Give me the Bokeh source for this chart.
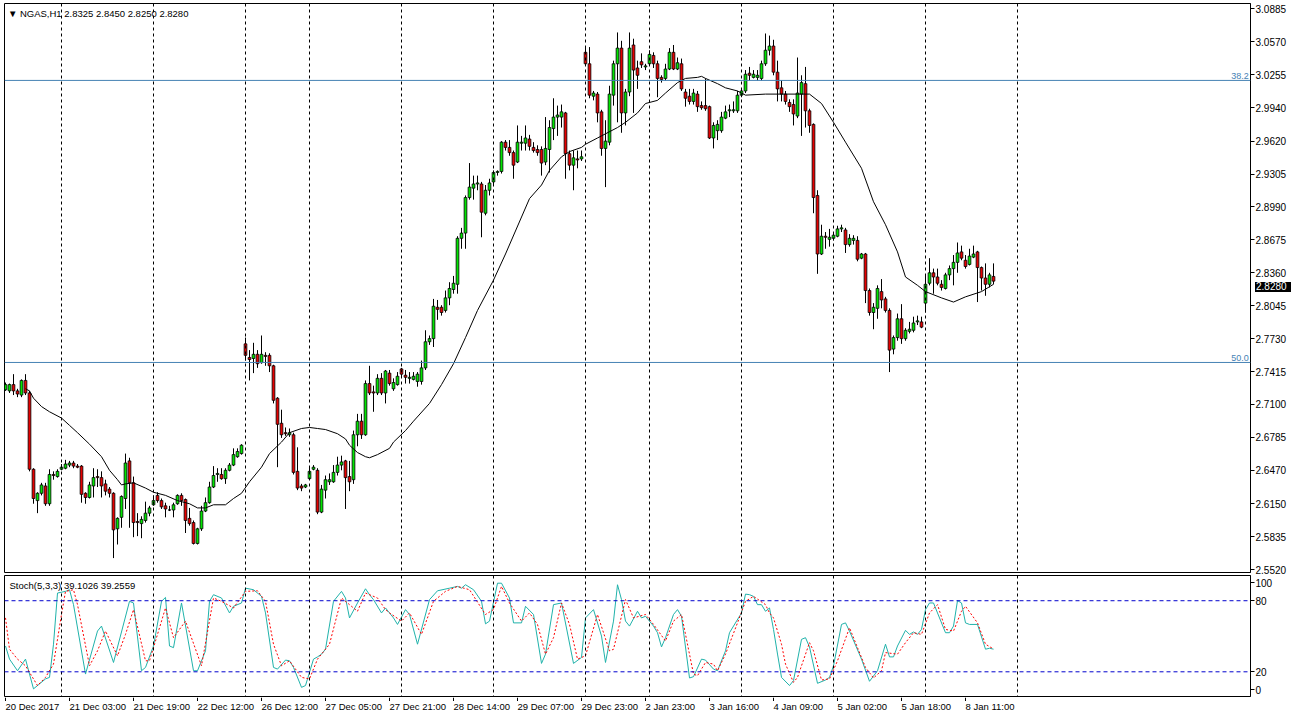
from bokeh.plotting import figure
from bokeh.models import Range1d, FixedTicker, Span, Label, ColumnDataSource, PrintfTickFormatter, Div
from bokeh.layouts import column
from bokeh.embed import file_html
from bokeh.resources import INLINE
from bokeh.core.properties import value

# ---------------- data ----------------
opens = [
 2.724, 2.723, 2.729, 2.723, 2.719, 2.733, 2.721, 2.648, 2.618, 2.625,
 2.632, 2.615, 2.643, 2.641, 2.648, 2.649, 2.652, 2.654, 2.651, 2.651,
 2.625, 2.621, 2.632, 2.641, 2.640, 2.634, 2.629, 2.625, 2.591, 2.602,
 2.620, 2.656, 2.635, 2.598, 2.596, 2.599, 2.606, 2.614, 2.623, 2.618,
 2.613, 2.609, 2.609, 2.615, 2.623, 2.619, 2.601, 2.597, 2.577, 2.591,
 2.608, 2.616, 2.631, 2.643, 2.643, 2.639, 2.647, 2.652, 2.660, 2.663,
 2.768, 2.755, 2.754, 2.758, 2.750, 2.757, 2.757, 2.747, 2.716, 2.692,
 2.683, 2.681, 2.681, 2.646, 2.632, 2.631, 2.639, 2.648, 2.647, 2.607,
 2.628, 2.636, 2.636, 2.645, 2.652, 2.656, 2.641, 2.638, 2.681, 2.694,
 2.681, 2.730, 2.722, 2.721, 2.735, 2.721, 2.740, 2.725, 2.729, 2.744,
 2.738, 2.735, 2.734, 2.732, 2.732, 2.745, 2.770, 2.773, 2.803, 2.803,
 2.800, 2.812, 2.820, 2.825, 2.869, 2.874, 2.908, 2.917, 2.921, 2.921,
 2.893, 2.915, 2.923, 2.932, 2.933, 2.961, 2.956, 2.951, 2.942, 2.960,
 2.960, 2.964, 2.956, 2.954, 2.954, 2.942, 2.954, 2.974, 2.985, 2.985,
 2.989, 2.950, 2.939, 2.945, 2.945, 3.047, 3.036, 3.005, 3.007, 2.990,
 2.955, 2.961, 3.006, 3.036, 3.051, 2.989, 3.009, 3.054, 3.032, 3.038,
 3.033, 3.036, 3.044, 3.036, 3.023, 3.022, 3.031, 3.047, 3.031, 3.036,
 3.009, 3.005, 3.000, 3.007, 2.996, 2.996, 2.995, 2.965, 2.972, 2.972,
 2.984, 2.991, 2.991, 2.991, 3.006, 3.010, 3.027, 3.023, 3.023, 3.022,
 3.036, 3.049, 3.053, 3.028, 3.013, 3.007, 2.999, 2.997, 2.986, 3.007,
 3.017, 2.991, 2.978, 2.910, 2.854, 2.871, 2.868, 2.869, 2.871, 2.878,
 2.877, 2.863, 2.867, 2.867, 2.850, 2.854, 2.819, 2.798, 2.802, 2.818,
 2.811, 2.800, 2.763, 2.774, 2.792, 2.773, 2.780, 2.781, 2.789, 2.789,
 2.807, 2.826, 2.836, 2.832, 2.825, 2.821, 2.834, 2.840, 2.846, 2.856,
 2.848, 2.844, 2.851, 2.856, 2.841, 2.831, 2.825, 2.8325]

highs = [
 2.731, 2.730, 2.739, 2.725, 2.734, 2.739, 2.723, 2.649, 2.626, 2.635,
 2.635, 2.648, 2.646, 2.648, 2.653, 2.657, 2.656, 2.656, 2.653, 2.652,
 2.626, 2.636, 2.649, 2.648, 2.646, 2.638, 2.631, 2.626, 2.602, 2.623,
 2.663, 2.659, 2.641, 2.606, 2.603, 2.617, 2.613, 2.623, 2.626, 2.620,
 2.616, 2.613, 2.616, 2.624, 2.625, 2.620, 2.611, 2.599, 2.592, 2.613,
 2.621, 2.636, 2.651, 2.649, 2.649, 2.649, 2.654, 2.668, 2.668, 2.672,
 2.774, 2.762, 2.769, 2.762, 2.776, 2.760, 2.759, 2.748, 2.717, 2.705,
 2.688, 2.687, 2.683, 2.669, 2.634, 2.634, 2.651, 2.652, 2.649, 2.633,
 2.642, 2.644, 2.652, 2.660, 2.661, 2.657, 2.656, 2.685, 2.701, 2.701,
 2.733, 2.747, 2.728, 2.739, 2.740, 2.743, 2.743, 2.735, 2.741, 2.745,
 2.743, 2.741, 2.741, 2.741, 2.752, 2.781, 2.776, 2.811, 2.810, 2.805,
 2.819, 2.827, 2.833, 2.871, 2.879, 2.910, 2.941, 2.929, 2.929, 2.923,
 2.920, 2.926, 2.934, 2.934, 2.962, 2.963, 2.963, 2.953, 2.977, 2.967,
 2.977, 2.968, 2.961, 2.958, 2.957, 2.985, 2.982, 3.003, 2.996, 2.997,
 2.990, 2.953, 2.953, 2.953, 2.953, 3.052, 3.052, 3.010, 3.009, 2.992,
 2.982, 3.015, 3.039, 3.066, 3.058, 3.012, 3.066, 3.060, 3.039, 3.046,
 3.036, 3.049, 3.047, 3.039, 3.025, 3.036, 3.051, 3.054, 3.042, 3.041,
 3.012, 3.012, 3.012, 3.010, 3.000, 3.022, 2.996, 2.980, 2.982, 2.990,
 2.996, 2.997, 3.000, 3.010, 3.012, 3.030, 3.033, 3.030, 3.030, 3.039,
 3.065, 3.063, 3.059, 3.039, 3.020, 3.010, 3.002, 3.002, 3.042, 3.025,
 3.033, 2.993, 2.979, 2.915, 2.882, 2.875, 2.878, 2.875, 2.881, 2.882,
 2.879, 2.873, 2.872, 2.871, 2.855, 2.855, 2.821, 2.807, 2.824, 2.830,
 2.813, 2.802, 2.776, 2.797, 2.806, 2.783, 2.789, 2.794, 2.795, 2.794,
 2.833, 2.850, 2.840, 2.840, 2.829, 2.836, 2.843, 2.853, 2.865, 2.862,
 2.853, 2.859, 2.862, 2.857, 2.842, 2.845, 2.836, 2.845]

lows = [
 2.723, 2.721, 2.719, 2.717, 2.717, 2.719, 2.646, 2.615, 2.606, 2.623,
 2.613, 2.613, 2.638, 2.640, 2.647, 2.648, 2.650, 2.649, 2.649, 2.616,
 2.615, 2.620, 2.621, 2.631, 2.621, 2.623, 2.621, 2.563, 2.576, 2.592,
 2.610, 2.592, 2.583, 2.584, 2.582, 2.597, 2.603, 2.613, 2.616, 2.610,
 2.602, 2.608, 2.602, 2.614, 2.613, 2.587, 2.594, 2.576, 2.576, 2.589,
 2.607, 2.615, 2.630, 2.636, 2.638, 2.634, 2.646, 2.651, 2.659, 2.662,
 2.752, 2.733, 2.740, 2.745, 2.749, 2.747, 2.741, 2.711, 2.650, 2.678,
 2.680, 2.679, 2.643, 2.628, 2.627, 2.630, 2.638, 2.647, 2.605, 2.606,
 2.620, 2.633, 2.635, 2.642, 2.647, 2.610, 2.627, 2.634, 2.670, 2.677,
 2.680, 2.719, 2.703, 2.719, 2.719, 2.711, 2.728, 2.723, 2.728, 2.737,
 2.730, 2.730, 2.733, 2.727, 2.729, 2.743, 2.767, 2.765, 2.791, 2.795,
 2.798, 2.805, 2.816, 2.816, 2.859, 2.859, 2.906, 2.906, 2.915, 2.870,
 2.891, 2.910, 2.919, 2.929, 2.931, 2.953, 2.948, 2.926, 2.941, 2.953,
 2.953, 2.953, 2.951, 2.948, 2.929, 2.939, 2.932, 2.963, 2.967, 2.975,
 2.926, 2.934, 2.915, 2.936, 2.943, 3.035, 3.003, 3.001, 2.980, 2.948,
 2.918, 2.958, 2.996, 2.980, 2.970, 2.977, 3.005, 2.989, 3.012, 3.032,
 3.030, 3.034, 3.032, 3.004, 3.018, 3.020, 3.030, 3.030, 3.030, 3.010,
 2.995, 2.997, 2.997, 2.990, 2.992, 2.991, 2.964, 2.955, 2.963, 2.970,
 2.983, 2.985, 2.989, 2.989, 3.004, 3.008, 3.020, 3.022, 3.020, 3.020,
 3.034, 3.044, 3.025, 3.000, 3.000, 2.997, 2.990, 2.977, 2.984, 2.967,
 2.975, 2.970, 2.893, 2.835, 2.853, 2.859, 2.861, 2.867, 2.870, 2.875,
 2.855, 2.861, 2.863, 2.847, 2.849, 2.807, 2.795, 2.782, 2.792, 2.802,
 2.798, 2.741, 2.758, 2.771, 2.768, 2.771, 2.778, 2.779, 2.786, 2.783,
 2.798, 2.824, 2.816, 2.824, 2.819, 2.820, 2.829, 2.824, 2.836, 2.848,
 2.840, 2.843, 2.850, 2.808, 2.819, 2.814, 2.822, 2.825]

closes = [
 2.729, 2.729, 2.723, 2.720, 2.733, 2.721, 2.648, 2.620, 2.625, 2.633,
 2.615, 2.643, 2.642, 2.646, 2.650, 2.653, 2.654, 2.651, 2.650, 2.624,
 2.621, 2.633, 2.640, 2.640, 2.632, 2.627, 2.625, 2.590, 2.601, 2.622,
 2.654, 2.635, 2.597, 2.597, 2.600, 2.606, 2.611, 2.618, 2.618, 2.612,
 2.610, 2.609, 2.614, 2.623, 2.618, 2.599, 2.596, 2.577, 2.591, 2.608,
 2.616, 2.631, 2.642, 2.644, 2.639, 2.647, 2.652, 2.662, 2.665, 2.671,
 2.757, 2.753, 2.758, 2.749, 2.758, 2.756, 2.747, 2.714, 2.691, 2.681,
 2.682, 2.683, 2.645, 2.630, 2.630, 2.633, 2.646, 2.650, 2.607, 2.629,
 2.638, 2.638, 2.645, 2.652, 2.655, 2.640, 2.636, 2.681, 2.694, 2.681,
 2.730, 2.721, 2.721, 2.735, 2.721, 2.742, 2.730, 2.731, 2.737, 2.739,
 2.736, 2.736, 2.737, 2.739, 2.745, 2.770, 2.773, 2.804, 2.801, 2.798,
 2.812, 2.821, 2.826, 2.869, 2.874, 2.908, 2.918, 2.921, 2.922, 2.894,
 2.915, 2.922, 2.932, 2.933, 2.961, 2.956, 2.951, 2.939, 2.961, 2.961,
 2.965, 2.957, 2.953, 2.951, 2.941, 2.955, 2.975, 2.985, 2.987, 2.990,
 2.950, 2.939, 2.946, 2.944, 2.947, 3.036, 3.006, 3.008, 2.989, 2.955,
 2.962, 3.007, 3.036, 3.051, 2.989, 3.009, 3.051, 3.030, 3.025, 3.035,
 3.034, 3.045, 3.036, 3.022, 3.021, 3.031, 3.047, 3.031, 3.037, 3.012,
 3.003, 3.000, 3.008, 2.995, 2.994, 2.993, 2.965, 2.977, 2.978, 2.985,
 2.990, 2.992, 2.992, 3.006, 3.010, 3.026, 3.025, 3.026, 3.025, 3.036,
 3.049, 3.053, 3.028, 3.012, 3.007, 3.000, 2.995, 2.988, 3.008, 3.018,
 2.991, 2.977, 2.908, 2.854, 2.871, 2.870, 2.870, 2.872, 2.878, 2.879,
 2.863, 2.869, 2.869, 2.849, 2.854, 2.819, 2.798, 2.803, 2.821, 2.810,
 2.800, 2.762, 2.774, 2.792, 2.773, 2.781, 2.782, 2.788, 2.790, 2.784,
 2.825, 2.836, 2.832, 2.826, 2.822, 2.834, 2.840, 2.846, 2.855, 2.850,
 2.842, 2.852, 2.854, 2.841, 2.831, 2.825, 2.834, 2.828]

ma_bar = [5, 6, 7, 9, 11, 14, 16, 18, 21, 24, 26, 28, 29, 30, 32, 35, 37, 40, 43, 46,
          48, 50, 52, 55, 57, 59, 61, 64, 66, 69, 71, 74, 76, 78, 80, 83, 85, 86, 88, 90,
          91, 93, 96, 97, 100, 102, 106, 109, 112, 115, 118, 122, 125, 131, 134, 136, 139, 141, 144, 145,
          148, 150, 153, 155, 158, 160, 163, 165, 168, 170, 173, 174, 175, 178, 180, 183, 185, 190, 195, 201,
          204, 207, 210, 214, 217, 220, 223, 225, 228, 230, 234, 237, 240, 244, 247]
ma_val = [2.725, 2.723, 2.716, 2.708, 2.703, 2.697, 2.690, 2.683, 2.672, 2.660,
          2.647, 2.638, 2.633, 2.634, 2.635, 2.630, 2.626, 2.623, 2.618, 2.615,
          2.611, 2.611, 2.614, 2.614, 2.620, 2.625, 2.636, 2.650, 2.663, 2.674,
          2.683, 2.687, 2.688, 2.687, 2.686, 2.682, 2.677, 2.671, 2.664, 2.660,
          2.659, 2.662, 2.668, 2.674, 2.685, 2.694, 2.711, 2.729, 2.749, 2.774,
          2.800, 2.829, 2.854, 2.907, 2.920, 2.934, 2.947, 2.952, 2.956, 2.959,
          2.965, 2.969, 2.975, 2.980, 2.989, 2.998, 3.001, 3.008, 3.018, 3.022,
          3.023, 3.024, 3.022, 3.017, 3.013, 3.010, 3.006, 3.007, 3.007, 3.007,
          2.998, 2.980, 2.961, 2.936, 2.904, 2.882, 2.856, 2.832, 2.824, 2.818,
          2.812, 2.808, 2.813, 2.818, 2.825]

k_bar = [0, 1, 3, 5, 7, 10, 11, 12, 13, 15, 16, 17, 20, 23, 24, 27, 31, 32, 34, 35,
         37, 39, 40, 41, 42, 44, 47, 48, 50, 51, 52, 54, 56, 57, 59, 60, 62, 64, 65, 67,
         68, 70, 71, 72, 74, 75, 77, 78, 79, 80, 82, 84, 85, 86, 88, 90, 91, 92, 94, 95,
         97, 98, 100, 101, 103, 106, 108, 111, 113, 114, 115, 117, 119, 120, 121, 123, 124, 126, 127, 129,
         130, 132, 134, 135, 137, 139, 142, 144, 145, 147, 149, 150, 152, 153, 154, 155, 156, 158, 159, 160,
         162, 163, 164, 165, 167, 168, 169, 171, 172, 174, 175, 177, 178, 180, 181, 184, 185, 186, 187, 188,
         189, 190, 191, 192, 193, 194, 196, 197, 199, 200, 201, 203, 205, 206, 207, 209, 210, 211, 214, 216,
         218, 220, 221, 222, 223, 225, 226, 227, 228, 229, 230, 231, 232, 233, 235, 236, 237, 238, 239, 240,
         241, 243, 245, 246, 247]
k_val = [41.8, 30.7, 20.9, 30.7, 5.6, 14.0, 15.3, 43.3, 86.5, 87.9, 89.3, 76.7, 18.1, 54.4, 58.6, 27.9, 79.5, 78.1, 20.9, 23.7,
         41.8, 79.5, 82.8, 41.8, 40.4, 78.1, 20.9, 20.9, 37.7, 79.5, 85.1, 82.3, 69.7, 75.3, 78.1, 90.6, 89.3, 83.7, 69.7, 23.7,
         22.3, 29.9, 29.3, 23.7, 6.9, 8.4, 30.7, 32.6, 34.9, 39.1, 79.5, 87.9, 82.3, 65.5, 78.1, 90.1, 85.1, 80.9, 69.7, 73.9,
         65.5, 60.0, 72.5, 68.4, 43.3, 80.9, 88.4, 90.6, 92.1, 90.6, 93.5, 89.3, 79.5, 60.5, 62.8, 94.8, 94.8, 82.3, 61.3, 61.3,
         75.3, 68.4, 27.1, 34.9, 76.7, 78.1, 27.1, 32.1, 65.5, 72.5, 50.2, 27.9, 62.8, 93.5, 80.9, 62.8, 58.6, 71.1, 65.5, 66.9,
         58.6, 53.0, 41.0, 48.8, 68.4, 72.5, 66.9, 14.8, 15.9, 30.7, 29.9, 22.3, 20.9, 37.7, 53.0, 69.7, 85.6, 85.1, 83.7, 76.7,
         76.7, 71.1, 73.9, 55.8, 35.0, 15.3, 8.4, 12.6, 47.4, 48.8, 41.0, 10.3, 13.1, 15.3, 25.1, 60.0, 61.3, 54.4, 30.7, 12.0,
         20.9, 43.3, 32.6, 32.6, 41.8, 55.0, 51.6, 53.6, 51.6, 55.8, 72.5, 78.1, 78.1, 69.7, 53.0, 53.0, 58.6, 80.1, 78.1, 61.3,
         60.0, 60.0, 39.1, 39.9, 39.1026]

d_bar = [0, 1, 3, 5, 8, 10, 12, 14, 15, 17, 18, 21, 23, 25, 28, 30, 32, 35, 36, 38,
         40, 42, 45, 49, 52, 54, 57, 60, 63, 65, 67, 69, 71, 74, 76, 78, 81, 84, 86, 88,
         90, 93, 95, 96, 99, 101, 104, 107, 110, 113, 116, 120, 122, 124, 126, 129, 131, 133, 135, 137,
         139, 141, 143, 145, 148, 151, 152, 155, 157, 160, 162, 165, 167, 169, 172, 173, 175, 177, 178, 180,
         183, 185, 187, 190, 191, 192, 193, 194, 195, 197, 198, 201, 202, 204, 206, 208, 211, 215, 217, 219,
         220, 223, 225, 227, 229, 231, 233, 235, 237, 239, 240, 243, 245, 247]
d_val = [65.5, 39.1, 30.7, 25.1, 8.4, 15.3, 26.5, 68.4, 87.9, 89.3, 76.7, 25.1, 37.7, 54.4, 33.5, 51.6, 72.5, 29.3, 29.3, 51.6,
         73.9, 48.8, 62.8, 25.1, 82.3, 79.5, 73.9, 87.9, 88.4, 79.5, 43.3, 25.1, 29.3, 15.3, 14.0, 30.7, 43.3, 82.3, 76.7, 71.1,
         86.5, 82.3, 72.5, 69.7, 62.8, 69.7, 51.6, 79.5, 87.9, 92.1, 89.3, 68.4, 72.5, 92.1, 78.1, 62.8, 69.7, 60.0, 34.9, 48.8,
         78.1, 60.0, 30.7, 33.5, 68.4, 37.7, 39.0, 81.0, 65.5, 68.4, 60.0, 46.0, 62.8, 68.4, 18.1, 16.7, 27.9, 26.5, 20.9, 34.9,
         61.3, 79.5, 83.7, 76.7, 69.7, 65.5, 54.4, 43.3, 26.5, 11.1, 15.3, 44.6, 37.7, 13.1, 14.0, 29.3, 57.2, 23.7, 14.8, 20.9,
         36.2, 34.9, 44.6, 53.0, 51.6, 69.7, 76.7, 55.8, 54.4, 71.1, 75.3, 61.3, 43.3, 39.2559]

day_start_bar = [14, 37, 60, 76, 99, 122, 145, 161, 184, 207, 230, 253]
time_tick_bar = [0, 16, 32, 48, 64, 80, 96, 112, 128, 144, 160, 176, 192, 208, 224, 240]
time_tick_text = ["20 Dec 2017", "21 Dec 03:00", "21 Dec 19:00", "22 Dec 12:00", "26 Dec 12:00",
                  "27 Dec 05:00", "27 Dec 21:00", "28 Dec 14:00", "29 Dec 07:00", "29 Dec 23:00",
                  "2 Jan 23:00", "3 Jan 16:00", "4 Jan 09:00", "5 Jan 02:00", "5 Jan 18:00", "8 Jan 11:00"]
price_ticks = [3.0885, 3.0570, 3.0255, 2.9940, 2.9620, 2.9305, 2.8990, 2.8675, 2.8360, 2.8045,
               2.7730, 2.7415, 2.7100, 2.6785, 2.6470, 2.6150, 2.5835, 2.5520]
fib_levels = [3.0201, 2.7502]
fib_names = ["38.2", "50.0"]
last_price = 2.8280

# ---------------- styling ----------------
FONT = "Liberation Sans"
FS = "10px"
FS_SMALL = "9.5px"
BULL = "#00E600"
BEAR = "#E60000"
FIB = "#4682B4"
W = 1290
LB, RB = 4, 40
XR = Range1d(-0.25, 311.25)

bars = list(range(len(closes)))
src = ColumnDataSource(dict(
    i=bars, o=opens, h=highs, l=lows, c=closes,
    top=[max(a, b) for a, b in zip(opens, closes)],
    bot=[min(a, b) for a, b in zip(opens, closes)],
    col=[BULL if c >= o else BEAR for o, c in zip(opens, closes)],
))


def style_yaxis(ax):
    ax.major_tick_out = 4
    ax.major_tick_in = 0
    ax.minor_tick_out = 0
    ax.minor_tick_in = 0
    ax.axis_line_color = "black"
    ax.major_label_text_font = FONT
    ax.major_label_text_font_size = FS
    ax.major_label_text_color = "black"
    ax.major_label_standoff = 1


# ---------------- price panel ----------------
p = figure(width=W, height=575, x_range=XR, y_range=Range1d(2.5492, 3.0937),
           x_axis_location=None, y_axis_location="right",
           output_backend="svg", toolbar_location=None,
           min_border_left=LB, min_border_right=RB, min_border_top=3, min_border_bottom=3)
p.grid.visible = False
p.outline_line_color = "black"
p.background_fill_color = "white"
p.border_fill_color = "white"

ya = p.yaxis[0]
ya.ticker = FixedTicker(ticks=price_ticks)
ya.formatter = PrintfTickFormatter(format="%.4f")
style_yaxis(ya)

for b in day_start_bar:
    p.add_layout(Span(location=b, dimension="height", line_color="black",
                      line_dash="3 3", line_width=1))
for lv, nm in zip(fib_levels, fib_names):
    p.add_layout(Span(location=lv, dimension="width", line_color=FIB, line_width=1))
    p.add_layout(Label(x=310.8, y=lv, text=nm, text_align="right", text_baseline="bottom",
                       y_offset=1, text_font=FONT, text_font_size="9px", text_color=FIB))

p.segment(x0="i", y0="l", x1="i", y1="h", source=src, line_color="black", line_width=1)
p.vbar(x="i", top="top", bottom="bot", width=0.68, source=src,
       fill_color="col", line_color="black", line_width=0.8)
p.line(ma_bar, ma_val, line_color="black", line_width=1)

p.add_layout(Label(x=0.6, y=3.0842, text="\u25BC NGAS,H1  2.8325 2.8450 2.8250 2.8280",
                   text_baseline="middle", text_font=FONT, text_font_size=FS_SMALL, text_color="black"))

# ---------------- stochastic panel ----------------
s = figure(width=W, height=122, x_range=XR, y_range=Range1d(-0.84, 101.3),
           x_axis_location=None, y_axis_location="right",
           output_backend="svg", toolbar_location=None,
           min_border_left=LB, min_border_right=RB, min_border_top=0, min_border_bottom=1)
s.grid.visible = False
s.outline_line_color = "black"
s.border_fill_color = "white"

sy = s.yaxis[0]
sy.ticker = FixedTicker(ticks=[5, 20, 80, 95])
sy.major_label_overrides = {5: "0", 20: "20", 80: "80", 95: "100"}
style_yaxis(sy)

for b in day_start_bar:
    s.add_layout(Span(location=b, dimension="height", line_color="black",
                      line_dash="3 3", line_width=1))
for lv in [80, 20]:
    s.add_layout(Span(location=lv, dimension="width", line_color="#0000CD",
                      line_dash="4 3", line_width=1))

s.line(k_bar, k_val, line_color="#20B2AA", line_width=1)
s.line(d_bar, d_val, line_color="red", line_width=1, line_dash="2 2")

s.add_layout(Label(x=1.0, y=93.0, text="Stoch(5,3,3) 39.1026 39.2559",
                   text_baseline="middle", text_font=FONT, text_font_size=FS_SMALL, text_color="black"))

# ---------------- time axis strip ----------------
t = figure(width=W, height=20, x_range=XR, y_range=Range1d(0, 20),
           x_axis_location=None, y_axis_location=None,
           output_backend="svg", toolbar_location=None,
           min_border_left=LB, min_border_right=RB, min_border_top=0, min_border_bottom=0)
t.grid.visible = False
t.outline_line_color = None
t.border_fill_color = "white"
t.segment(x0=time_tick_bar, y0=[20] * len(time_tick_bar), x1=time_tick_bar,
          y1=[16.5] * len(time_tick_bar), line_color="black", line_width=1)
t.text(x=time_tick_bar, y=[11] * len(time_tick_bar), text=time_tick_text,
       text_align="left", text_baseline="middle", text_font=value(FONT),
       text_font_size=FS_SMALL, text_color="black")

# ---------------- last price marker on the price axis ----------------
price_box = Div(text="%.4f" % last_price, width=36, height=10,
                styles={"position": "absolute", "left": "1250px", "top": "277px",
                        "background-color": "black", "color": "white",
                        "font-family": FONT, "font-size": "10px", "line-height": "10px",
                        "padding": "0px 1px", "z-index": "10"})

layout = column(p, s, t, price_box, spacing=0)
open("out.html", "w").write(file_html(layout, INLINE))
